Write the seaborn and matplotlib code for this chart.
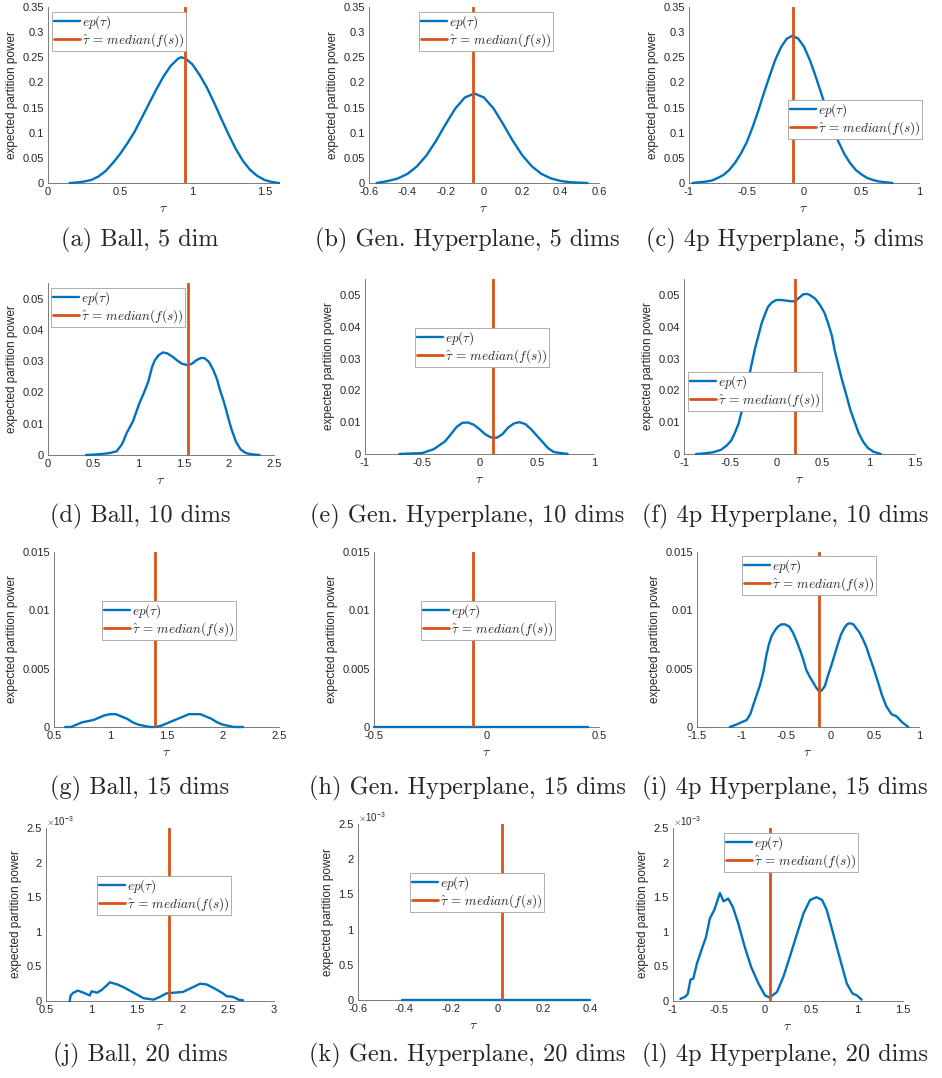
import matplotlib
matplotlib.use("Agg")
import matplotlib.pyplot as plt
import seaborn as sns
from matplotlib.ticker import FuncFormatter, MultipleLocator

sns.set_style("white")
plt.rcParams['font.family'] = ['Liberation Sans', 'DejaVu Sans']
plt.rcParams['mathtext.fontset'] = 'cm'
plt.rcParams['axes.unicode_minus'] = False

BLUE = '#0072BD'
ORANGE = '#D95319'
W, H = 942, 1078

# ---- data ----
# (a) Ball, 5 dim
a_x = [0.15, 0.2, 0.25, 0.3, 0.35, 0.4, 0.45, 0.5, 0.55, 0.6, 0.65, 0.7, 0.75, 0.8, 0.85, 0.9, 0.92, 0.95, 1.0, 1.05,
       1.1, 1.15, 1.2, 1.25, 1.3, 1.35, 1.4, 1.45, 1.5, 1.55, 1.6]
a_y = [0.0, 0.001, 0.003, 0.006, 0.013, 0.024, 0.04, 0.058, 0.079, 0.102, 0.13, 0.158, 0.186, 0.212, 0.233, 0.247, 0.25, 0.248, 0.236, 0.215,
       0.19, 0.16, 0.128, 0.097, 0.068, 0.044, 0.026, 0.014, 0.006, 0.002, 0.0]
# (b) Gen. Hyperplane, 5 dims
b_x = [-0.56, -0.5, -0.45, -0.4, -0.35, -0.3, -0.25, -0.2, -0.15, -0.1, -0.05, 0.0, 0.05, 0.1, 0.15, 0.2, 0.25, 0.3, 0.35, 0.4, 0.45, 0.54]
b_y = [0.0, 0.004, 0.009, 0.018, 0.033, 0.055, 0.084, 0.117, 0.148, 0.17, 0.178, 0.17, 0.148, 0.117, 0.084, 0.055, 0.033, 0.018, 0.009, 0.004, 0.0015, 0.0]
# (c) 4p Hyperplane, 5 dims
c_x = [-0.97, -0.85, -0.8, -0.75, -0.7, -0.65, -0.6, -0.55, -0.5, -0.45, -0.4, -0.35, -0.3, -0.25, -0.2, -0.15, -0.1,
       -0.05, 0.0, 0.05, 0.1, 0.15, 0.2, 0.25, 0.3, 0.35, 0.4, 0.45, 0.5, 0.55, 0.6, 0.65, 0.77]
c_y = [0.0, 0.003, 0.005, 0.01, 0.016, 0.026, 0.04, 0.058, 0.08, 0.109, 0.142, 0.178, 0.212, 0.245, 0.27, 0.287, 0.293,
       0.287, 0.271, 0.245, 0.213, 0.178, 0.143, 0.109, 0.082, 0.058, 0.04, 0.026, 0.017, 0.01, 0.006, 0.003, 0.0]
# (d) Ball, 10 dims
d_x = [0.42, 0.55, 0.68, 0.76, 0.82, 0.87, 0.94, 1.01, 1.06, 1.11, 1.15, 1.18, 1.22, 1.27, 1.32, 1.38, 1.43, 1.48, 1.55, 1.6,
       1.64, 1.69, 1.73, 1.78, 1.83, 1.87, 1.9, 1.94, 1.97, 2.0, 2.03, 2.08, 2.13, 2.19, 2.26, 2.34]
d_y = [0.0, 0.0002, 0.0006, 0.0012, 0.0035, 0.007, 0.0108, 0.0165, 0.0198, 0.0235, 0.028, 0.0302, 0.0318, 0.0328, 0.0325, 0.0314, 0.0302, 0.0292, 0.0287, 0.0293,
       0.0303, 0.031, 0.031, 0.0298, 0.0271, 0.0242, 0.021, 0.0175, 0.0145, 0.0112, 0.0082, 0.0042, 0.0018, 0.0006, 0.0002, 0.0]
# (e) Gen. Hyperplane, 10 dims
e_x = [-0.7, -0.5, -0.4, -0.3, -0.25, -0.2, -0.15, -0.1, -0.05, 0.0, 0.05, 0.1, 0.15, 0.2, 0.25, 0.3, 0.35, 0.4, 0.45, 0.5,
       0.55, 0.6, 0.65, 0.77]
e_y = [0.0, 0.0003, 0.0015, 0.004, 0.0062, 0.0085, 0.0098, 0.0099, 0.0092, 0.0078, 0.0062, 0.0052, 0.0051, 0.0062, 0.0083, 0.0096, 0.01, 0.0094, 0.0078, 0.0058,
       0.0038, 0.0018, 0.0006, 0.0]
# (f) 4p Hyperplane, 10 dims
f_x = [-0.87, -0.78, -0.69, -0.6, -0.54, -0.49, -0.45, -0.41, -0.38, -0.34, -0.31, -0.27, -0.23, -0.19, -0.16, -0.12, -0.09, -0.05, 0.0, 0.05,
       0.11, 0.16, 0.2, 0.25, 0.29, 0.33, 0.36, 0.42, 0.47, 0.52, 0.56, 0.6, 0.63, 0.67, 0.71, 0.76, 0.8, 0.85, 0.89, 0.94,
       0.99, 1.05, 1.13]
f_y = [0.0, 0.0002, 0.0005, 0.0013, 0.0026, 0.0042, 0.0066, 0.0095, 0.0129, 0.0175, 0.0223, 0.028, 0.0333, 0.0377, 0.0411, 0.0442, 0.0463, 0.0476, 0.0484, 0.0484,
       0.0482, 0.048, 0.048, 0.0492, 0.0502, 0.0503, 0.05, 0.0488, 0.0469, 0.0444, 0.0411, 0.0372, 0.0327, 0.028, 0.0233, 0.0182, 0.0139, 0.0098, 0.0066, 0.0038,
       0.0019, 0.0007, 0.0]
# (g) Ball, 15 dims
g_x = [0.6, 0.65, 0.7, 0.75, 0.8, 0.85, 0.9, 0.95, 1.0, 1.05, 1.1, 1.15, 1.2, 1.25, 1.3, 1.35, 1.4, 1.45, 1.5, 1.55,
       1.6, 1.65, 1.7, 1.75, 1.8, 1.85, 1.9, 1.95, 2.0, 2.05, 2.1, 2.18]
g_y = [0.0, 0.0, 0.0002, 0.0004, 0.0005, 0.0006, 0.0008, 0.001, 0.0011, 0.0011, 0.0009, 0.0007, 0.0004, 0.0002, 0.0001, 0.0, 0.0, 0.0001, 0.0003, 0.0005,
       0.0007, 0.0009, 0.0011, 0.0011, 0.0011, 0.0009, 0.0007, 0.0004, 0.0002, 0.0001, 0.0, 0.0]
# (h) Gen. Hyperplane, 15 dims
h_x = [-0.5, -0.25, 0.0, 0.25, 0.45]
h_y = [0.0, 0.0, 0.0, 0.0, 0.0]
# (i) 4p Hyperplane, 15 dims
i_x = [-1.13, -1.06, -1.0, -0.94, -0.9, -0.87, -0.83, -0.79, -0.75, -0.72, -0.69, -0.66, -0.62, -0.59, -0.55, -0.51, -0.46, -0.42, -0.38, -0.34,
       -0.3, -0.27, -0.23, -0.19, -0.16, -0.13, -0.1, -0.06, -0.03, 0.01, 0.05, 0.09, 0.12, 0.16, 0.19, 0.22, 0.26, 0.29, 0.33, 0.37,
       0.41, 0.44, 0.49, 0.54, 0.58, 0.63, 0.69, 0.75, 0.81, 0.88]
i_y = [0.0, 0.0002, 0.0004, 0.0006, 0.0011, 0.0018, 0.0027, 0.0036, 0.0048, 0.0061, 0.0071, 0.0078, 0.0083, 0.0086, 0.0088, 0.0088, 0.0086, 0.0081, 0.0074, 0.0066,
       0.0057, 0.0049, 0.0043, 0.0038, 0.0034, 0.0031, 0.0031, 0.0035, 0.0043, 0.0052, 0.0062, 0.0072, 0.0079, 0.0085, 0.0088, 0.0089, 0.0088, 0.0085, 0.0081, 0.0075,
       0.0068, 0.0061, 0.005, 0.0038, 0.0028, 0.0018, 0.0011, 0.0009, 0.0004, 0.0]
# (j) Ball, 20 dims
j_x = [0.76, 0.77, 0.8, 0.85, 0.91, 0.98, 1.0, 1.06, 1.11, 1.17, 1.2, 1.28, 1.35, 1.46, 1.57, 1.68, 1.75, 1.82, 1.9, 2.0, 2.08, 2.19, 2.26, 2.35, 2.44, 2.48, 2.55, 2.61, 2.66]
j_y = [0.0, 0.08e-3, 0.12e-3, 0.15e-3, 0.12e-3, 0.08e-3, 0.14e-3, 0.12e-3, 0.16e-3, 0.23e-3, 0.27e-3, 0.24e-3, 0.2e-3, 0.12e-3, 0.04e-3, 0.02e-3, 0.06e-3, 0.11e-3, 0.12e-3, 0.13e-3, 0.18e-3, 0.25e-3, 0.24e-3, 0.18e-3, 0.11e-3, 0.07e-3, 0.06e-3, 0.02e-3, 0.01e-3]
# (k) Gen. Hyperplane, 20 dims
k_x = [-0.41, -0.2, 0.0, 0.2, 0.4]
k_y = [0.0, 0.0, 0.0, 0.0, 0.0]
# (l) 4p Hyperplane, 20 dims
l_x = [-0.92, -0.87, -0.84, -0.81, -0.78, -0.74, -0.69, -0.64, -0.6, -0.55, -0.49, -0.45, -0.4, -0.35, -0.29, -0.22, -0.15, -0.07, 0.0, 0.05,
       0.13, 0.2, 0.27, 0.35, 0.42, 0.49, 0.56, 0.62, 0.67, 0.73, 0.78, 0.84, 0.89, 0.95, 1.0, 1.05]
l_y = [0.03e-3, 0.06e-3, 0.1e-3, 0.31e-3, 0.32e-3, 0.54e-3, 0.74e-3, 0.93e-3, 1.19e-3, 1.32e-3, 1.56e-3, 1.44e-3, 1.48e-3, 1.36e-3, 1.12e-3, 0.78e-3, 0.49e-3, 0.25e-3, 0.08e-3, 0.05e-3,
       0.13e-3, 0.35e-3, 0.64e-3, 0.98e-3, 1.27e-3, 1.46e-3, 1.5e-3, 1.46e-3, 1.32e-3, 1.03e-3, 0.78e-3, 0.49e-3, 0.25e-3, 0.11e-3, 0.08e-3, 0.02e-3]

medians = [0.95, -0.06, -0.1, 1.55, 0.12, 0.2, 1.4, -0.06, -0.13, 1.85, 0.02, 0.05]
captions = ['(a) Ball, 5 dim', '(b) Gen. Hyperplane, 5 dims', '(c) 4p Hyperplane, 5 dims',
            '(d) Ball, 10 dims', '(e) Gen. Hyperplane, 10 dims', '(f) 4p Hyperplane, 10 dims',
            '(g) Ball, 15 dims', '(h) Gen. Hyperplane, 15 dims', '(i) 4p Hyperplane, 15 dims',
            '(j) Ball, 20 dims', '(k) Gen. Hyperplane, 20 dims', '(l) 4p Hyperplane, 20 dims']
curves = [(a_x, a_y), (b_x, b_y), (c_x, c_y), (d_x, d_y), (e_x, e_y), (f_x, f_y),
          (g_x, g_y), (h_x, h_y), (i_x, i_y), (j_x, j_y), (k_x, k_y), (l_x, l_y)]

# ---- layout (pixels) ----
boxes = [(48, 7, 279, 183), (369, 7, 599, 183), (689, 7, 919, 183),
         (48, 283, 274, 455), (365, 279, 594, 454), (684, 279, 915, 454),
         (54, 552, 279, 727), (374, 552, 599, 727), (697, 552, 919, 727),
         (46, 828, 274, 1001), (358, 824, 590, 1000), (673, 828, 903, 1001)]
xlims = [(0, 1.6), (-0.6, 0.6), (-1, 1), (0, 2.5), (-1, 1), (-1, 1.5),
         (0.5, 2.5), (-0.5, 0.5), (-1.5, 1), (0.5, 3), (-0.6, 0.4), (-1, 1.5)]
xsteps = [0.5, 0.2, 0.5, 0.5, 0.5, 0.5, 0.5, 0.5, 0.5, 0.5, 0.2, 0.5]
ylims = [0.35] * 3 + [0.055] * 3 + [0.015] * 3 + [2.5e-3] * 3
ysteps = [0.05] * 3 + [0.01] * 3 + [0.005] * 3 + [0.5e-3] * 3
legpos = [(52, 12), (419, 12), (788, 100), (51, 288), (415, 328), (688, 372),
          (102, 601), (421, 601), (742, 556), (97, 876), (410, 873), (724, 833)]
cap_y = [240, 516, 788, 1055]
cap_x = [140, 467, 785]

fig = plt.figure(figsize=(W / 100, H / 100), dpi=100)
fig.patch.set_facecolor('white')

fmt = FuncFormatter(lambda v, p: f"{round(v, 6) + 0:g}")
fmt_milli = FuncFormatter(lambda v, p: f"{round(v * 1e3, 6) + 0:g}")

for n in range(12):
    l, t, r, b = boxes[n]
    ax = fig.add_axes([l / W, 1 - b / H, (r - l) / W, (b - t) / H])
    xs, ys = curves[n]
    sns.lineplot(x=xs, y=ys, ax=ax, color=BLUE, linewidth=1.7, label=r'$ep(\tau)$', clip_on=False, zorder=3)
    ax.axvline(medians[n], color=ORANGE, linewidth=2.0, label=r'$\hat{\tau} \,=\, median(f(s))$', zorder=4)
    ax.set_xlim(*xlims[n])
    ax.set_ylim(0, ylims[n])
    ax.xaxis.set_major_locator(MultipleLocator(xsteps[n]))
    ax.yaxis.set_major_locator(MultipleLocator(ysteps[n]))
    ax.xaxis.set_major_formatter(fmt)
    ax.yaxis.set_major_formatter(fmt_milli if n >= 9 else fmt)
    if n >= 9:
        ax.text(0.0, 1.0, r'$\times\mathdefault{10^{-3}}$', transform=ax.transAxes,
                ha='left', va='bottom', fontsize=7, color='#262626')
    for side in ['top', 'right']:
        ax.spines[side].set_visible(False)
    for side in ['left', 'bottom']:
        ax.spines[side].set_color('#666666')
        ax.spines[side].set_linewidth(0.6)
    ax.tick_params(direction='in', length=3, width=0.6, color='#666666', labelcolor='#262626', labelsize=8, pad=3)
    ax.set_xlabel(r'$\tau$', fontsize=10, color='#262626', labelpad=3)
    ax.set_ylabel('expected partition power', fontsize=8.5, color='#262626', labelpad=3)
    ax.grid(False)
    lx, ly = legpos[n]
    leg = ax.legend(loc='upper left', bbox_to_anchor=(lx / W, 1 - ly / H),
                    bbox_transform=fig.transFigure, borderaxespad=0, fontsize=9.5,
                    frameon=True, fancybox=False, framealpha=1, edgecolor='#a0a0a0',
                    handlelength=2.0, handletextpad=0.15, borderpad=0.12, labelspacing=0.0)
    leg.get_frame().set_linewidth(0.6)
    fig.text(cap_x[n % 3] / W, 1 - cap_y[n // 3] / H, captions[n], ha='center', va='center',
             fontsize=17.5, family=['cmr10', 'DejaVu Serif'])

fig.savefig('out.png', dpi=100, facecolor='white')
